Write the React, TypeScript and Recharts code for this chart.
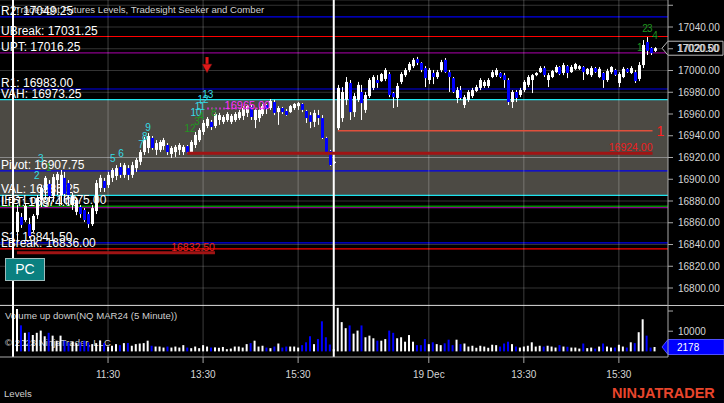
import React from "react";
import {
  ComposedChart,
  Bar,
  Cell,
  XAxis,
  YAxis,
  CartesianGrid,
  ReferenceLine,
  ReferenceArea,
  Scatter,
} from "recharts";

// NQ MAR24, 5 minute bars, two RTH sessions (18 + 19 Dec)
const opens = [
  16851.5, 16865.25, 16862.5, 16858.75, 16853.25, 16867, 16881, 16890, 16895.75, 16884.5,
  16899.25, 16885.5, 16901.25, 16896.5, 16876.25, 16870, 16874.5, 16871.75, 16868, 16858.75,
  16870.75, 16892, 16898.5, 16894.75, 16901.25, 16903, 16911.25, 16904, 16910.25, 16904,
  16910.25, 16916, 16925, 16928.75, 16938, 16927, 16927, 16930.5, 16931.5, 16923.25,
  16925, 16927, 16925, 16930.5, 16925, 16931.5, 16936, 16943.5, 16949, 16952.75,
  16949, 16954.5, 16952.75, 16954.5, 16952.75, 16954.5, 16956.25, 16958.25, 16961, 16966.5,
  16954.5, 16956.25, 16960, 16968.25, 16965.5, 16971, 16961.75, 16965.5, 16962.75, 16961.75,
  16965.5, 16967.25, 16969.25, 16962.75, 16959, 16952.75, 16959, 16956.25, 16938, 16926,
  16915,
  16947, 16956.25, 16973, 16988.5, 16961.75, 16973, 16980.25, 16963.75, 16976.5, 16984,
  16991.25, 16990.25, 16992.25, 16996.75, 16979.25, 16974.75, 16989.5, 16995.75, 17000.5, 17004,
  17010.5, 17007, 17002.25, 16991.25, 16997.75, 16994, 17000.5, 17009.75, 16998.5, 16993,
  16974.75, 16982, 16968.25, 16973, 16976.5, 16981.25, 16984, 16985.75, 16985.75, 16994,
  16995.75, 16997.75, 16995.75, 16991.25, 16971, 16980.25, 16977.5, 16982, 16986.75, 16991.25,
  16995.75, 16998.5, 17002.25, 16991.25, 16994, 16998.5, 17003.25, 16997.75, 17004, 16998.5,
  17001.5, 17001.5, 17003.25, 16996.75, 16995.75, 17002.25, 16994, 16997.75, 16991.25, 16998.5,
  17000.5, 16988.5, 16994, 17001.5, 16997.75, 16998.5, 16992.25, 17005, 17026.25, 17020.75,
  17018,
];

const highs = [
  16876.25, 16869, 16878.25, 16864.5, 16868, 16885.5, 16894.75, 16903, 16899.25, 16904.75,
  16906.75, 16908.5, 16906.75, 16899.25, 16887.5, 16882.75, 16876.25, 16873.5, 16870, 16876.25,
  16899.25, 16904, 16901.25, 16906.75, 16910.25, 16913, 16915, 16915, 16913, 16916,
  16919.5, 16927, 16939, 16942.5, 16939.75, 16936, 16936, 16938, 16933.25, 16930.5,
  16931.5, 16933.25, 16931.5, 16931.5, 16936, 16943.5, 16947, 16954.5, 16957.25, 16954.5,
  16961.75, 16961, 16959, 16961.75, 16960, 16961.75, 16963.75, 16967.25, 16968.25, 16968.25,
  16965.5, 16966.5, 16969.25, 16969.25, 16973.75, 16973, 16967.25, 16966.5, 16964.5, 16968.25,
  16970, 16971, 16970, 16963.75, 16961.75, 16963.75, 16963.75, 16959, 16939, 16927,
  16916.75,
  16986.75, 16984.75, 16994, 16991.25, 16979.25, 16989.5, 16986.75, 16980.25, 16993, 16995.75,
  16995.75, 16997.75, 17002.25, 16998.5, 16980.25, 16988.5, 16998.5, 17002.25, 17007.75, 17011.5,
  17012.5, 17007.75, 17004, 17002.25, 17000.5, 17000.5, 17009.75, 17011.5, 17000.5, 16994,
  16984.75, 16985.75, 16977.5, 16982, 16984, 16986.75, 16993, 16991.25, 16993, 17000.5,
  17002.25, 16998.5, 16997.75, 16993, 16982, 16982, 16984, 16991.25, 16995.75, 16996.75,
  16998.5, 17004, 17004, 16997.75, 17000.5, 17005, 17004, 17007, 17005, 17005,
  17007, 17005, 17004, 17002.25, 17004, 17003.25, 17003.25, 16998.5, 17001.5, 17004,
  17001.5, 16998.5, 17003.25, 17002.25, 17004, 17000.5, 17007.75, 17028, 17030.75, 17021.5,
  17021.5,
];

const lows = [
  16842.25, 16855.25, 16860.75, 16846, 16851.5, 16863.5, 16874.5, 16881, 16879, 16879,
  16885.5, 16876.25, 16878.25, 16876.25, 16871.75, 16867, 16864.5, 16860.75, 16855.25, 16857,
  16868, 16888.25, 16888.25, 16892, 16897.5, 16899.25, 16901.25, 16901.25, 16899.25, 16901.25,
  16906.75, 16913, 16922.25, 16924, 16927, 16922.25, 16925, 16927, 16922.25, 16919.5,
  16920.5, 16922.25, 16922.25, 16924, 16924.5, 16928.75, 16934.25, 16940.75, 16947, 16945.25,
  16947, 16950, 16950.75, 16952.75, 16950.75, 16952.75, 16954.5, 16954.5, 16957.25, 16954.5,
  16947, 16952.75, 16958.25, 16960, 16963.75, 16959, 16950, 16960, 16958.25, 16961,
  16963.75, 16963.75, 16961.75, 16951.75, 16947, 16948, 16950, 16937, 16924, 16912.25,
  16914,
  16944.5, 16952.75, 16968.25, 16954.5, 16957.25, 16971, 16954.5, 16961, 16974.75, 16982,
  16984, 16989.5, 16990.25, 16975.5, 16965.5, 16966.5, 16987.5, 16994, 16998.5, 17002.25,
  17005, 16998.5, 16984.75, 16987.5, 16987.5, 16992.25, 16998.5, 16997.75, 16980.25, 16979.25,
  16970, 16973, 16965.5, 16971, 16974.75, 16980.25, 16982, 16984, 16984, 16993,
  16994, 16993, 16984, 16968.25, 16965.5, 16971, 16975.5, 16980.25, 16984.75, 16979.25,
  16994.75, 16997.75, 16994, 16984.75, 16993, 16997.75, 16995.75, 16995.75, 16993, 16997.75,
  17000.5, 17000.5, 16991.25, 16995.75, 16994, 16997.75, 16993, 16984, 16989.5, 16996.75,
  16995, 16984.75, 16993, 16997.75, 16996.75, 16988.5, 16990.25, 17002.25, 17014.25, 17014.25,
  17017,
];

const closes = [
  16870, 16858, 16875.5, 16847.75, 16866.25, 16882.75, 16892, 16901.25, 16884.5, 16902,
  16904.75, 16904, 16886.5, 16885.5, 16884.5, 16881, 16868, 16862.5, 16858.75, 16873.5,
  16896.5, 16901.25, 16892, 16904, 16908.5, 16910.25, 16904, 16913, 16904, 16913,
  16917.75, 16925, 16936, 16939.75, 16928.75, 16933.25, 16934.25, 16936, 16925, 16928.75,
  16929.75, 16931.5, 16929.75, 16924.75, 16934.25, 16940.75, 16945.25, 16951.75, 16955.5, 16948,
  16960, 16959, 16957.25, 16960, 16958.25, 16960, 16961.75, 16965.5, 16967.25, 16957.25,
  16963.75, 16963.75, 16967.25, 16964.5, 16972, 16961, 16965.5, 16961.75, 16959, 16967.25,
  16969.25, 16970, 16963.75, 16956.25, 16952.75, 16961, 16956.25, 16938, 16925, 16913,
  16916,
  16984, 16980.25, 16989.5, 16961.75, 16976.5, 16986.75, 16970, 16977.5, 16991.25, 16994,
  16988.5, 16996.75, 17000.5, 16977.5, 16975.5, 16985.75, 16996.75, 17000.5, 17006, 17009.75,
  17007, 17000.5, 16993, 17000.5, 16994, 16998.5, 17007.75, 16998.5, 16994, 16980.25,
  16982, 16974.75, 16975.5, 16980.25, 16982, 16984.75, 16991.25, 16989.5, 16991.25, 16998.5,
  17000.5, 16994, 16991.25, 16971, 16980.25, 16974.75, 16982, 16989.5, 16994, 16995.75,
  16997.75, 17002.25, 16995.75, 16995.75, 16999.5, 17003.25, 16996.75, 17005, 16997.75, 17003.25,
  17006, 17004, 16998.5, 17001.5, 17002.25, 16998.5, 17001.5, 16991.25, 16999.5, 17003.25,
  16996, 16996.75, 17001.5, 16998.5, 17002.25, 16990.25, 17005, 17023.5, 17018, 17016,
  17020.5,
];

const volumes = [
  21000, 12900, 9200, 9500, 8100, 9200, 10300, 7500, 9200, 7800,
  5300, 7800, 5300, 4500, 4800, 4100, 4500, 5300, 4500, 3600,
  4100, 5300, 4100, 2400, 2800, 3600, 3100, 4100, 4100, 2800,
  3600, 3900, 4100, 5300, 2800, 2400, 2400, 1900, 2400, 1900,
  2400, 1900, 3100, 1900, 1600, 2400, 1600, 3100, 2400, 1900,
  2000, 1800, 2200, 1100, 1400, 2400, 2400, 1900, 3600, 4100,
  5300, 2400, 2800, 1900, 1600, 2400, 3900, 1900, 2400, 2400,
  2400, 1900, 3100, 4500, 7500, 3600, 6100, 14900, 7000, 3400,
  1100,
  21600, 14500, 11500, 12850, 8800, 10300, 12850, 7000, 7800, 6500,
  5300, 5300, 6100, 10300, 9200, 6500, 7000, 4800, 8100, 4800,
  3100, 3100, 6100, 3600, 4500, 3600, 3100, 4000, 5800, 3100,
  5800, 3600, 3900, 2400, 2800, 1800, 2800, 2400, 1800, 3300,
  3100, 2400, 3900, 4800, 3600, 2400, 1900, 2400, 2800, 4500,
  2400, 2800, 2400, 2800, 2400, 1900, 3100, 2400, 2300, 1900,
  1900, 1400, 3900, 1600, 1900, 1400, 2400, 3900, 2400, 1900,
  1900, 3300, 2400, 1900, 4500, 4100, 9500, 15900, 7800, 1900,
  2178,
];

// time axis: bar index -> label
const timeTicks = [23, 47, 71, 104, 128, 152];
const timeLabels = ["11:30", "13:30", "15:30", "19 Dec", "13:30", "15:30"];
const sessionStarts = [-1, 80];

const priceTicks = [16800, 16820, 16840, 16860, 16880, 16900, 16920, 16940, 16960, 16980, 17000, 17020, 17040, 17060];
const volumeTicks = [10000, 20000];

// Tradesight levels
const levelNames = ["R2", "UBreak", "UPT", "R1", "VAH", "Pivot", "VAL", "IFS Long", "LPT", "S1", "LBreak"];
const levelValues = [17049.25, 17031.25, 17016.25, 16983.0, 16973.25, 16907.75, 16885.25, 16875.0, 16874.0, 16841.5, 16836.0];
const settleValue = 16920;

// rays: price, first bar, last bar
const rayValues = [16832.5, 16924.0, 16965.0, 16944.5];
const rayFrom = [0, 43, 48, 81];
const rayTo = [50, 160.5, 63, 160.5];

// Seeker / Comber counts
const setupText = ["2", "3", "5", "6", "7", "8", "9", "10", "11", "12", "13"];
const setupBar = [5, 6, 24.2, 26.3, 31.3, 32.3, 33.1, 45.2, 46.2, 47, 48.2];
const setupPrice = [16903, 16919.5, 16919.5, 16923.25, 16931.5, 16939, 16948, 16961.75, 16967.25, 16973, 16977.5];
const countText = ["1", "12", "3", "4", "8", "1", "2", "3", "4"];
const countBar = [8, 43.7, 45.5, 46.5, 49.7, 157.3, 158.6, 159.8, 161.1];
const countPrice = [16911, 16946.25, 16952.75, 16957.25, 16961, 17021.5, 17038.25, 17039, 17031.75];
const signalBar = [48];
const signalPrice = [17005];

const FONT = "Arial, 'Liberation Sans', sans-serif";
const UP = "#ffffff";
const DOWN = "#0000ff";
const X_DOMAIN = [-4.283, 164.404];
const PRICE_DOMAIN = [16784.37, 17064.83];
const VOL_DOMAIN = [-2778, 22980];

const LEVEL_STROKE: Record<string, string> = {
  R2: "#0000ee",
  UBreak: "#ff0000",
  UPT: "#8b008b",
  R1: "#0000ee",
  VAH: "#1ee4ee",
  Pivot: "#0000ee",
  VAL: "#1ee4ee",
  "IFS Long": "#008a00",
  LPT: "#8b008b",
  S1: "#0000ee",
  LBreak: "#ff0000",
};

const RAY_STYLE = [
  { stroke: "#a01414", width: 3, dash: undefined, text: "#ee1c1c" },
  { stroke: "#a01414", width: 3, dash: undefined, text: "#ee1c1c" },
  { stroke: "#c030c0", width: 2, dash: "2 2", text: "#ff30ff" },
  { stroke: "#e0503c", width: 1.5, dash: undefined, text: "#ff2020" },
];

const bars = opens.map((o, i) => ({
  i,
  o,
  h: highs[i],
  l: lows[i],
  c: closes[i],
  v: volumes[i],
}));

const setupData = setupText.map((t, k) => ({ i: setupBar[k], p: setupPrice[k], t }));
const countData = countText.map((t, k) => ({ i: countBar[k], p: countPrice[k], t }));
const signalData = signalBar.map((i, k) => ({ i, p: signalPrice[k] }));

const levelValue = (name: string) => levelValues[levelNames.indexOf(name)];

function Candle(props: any) {
  const { x, y, width, height, payload } = props;
  if (x == null || y == null || !payload) return null;
  const top = height < 0 ? y + height : y;
  const hh = Math.abs(height);
  const cx = Math.round(x + width / 2);
  const k = payload.h > payload.l ? hh / (payload.h - payload.l) : 0;
  const yo = top + (payload.h - payload.o) * k;
  const yc = top + (payload.h - payload.c) * k;
  const up = payload.c >= payload.o;
  const bodyTop = Math.min(yo, yc);
  const bodyH = Math.max(1, Math.abs(yc - yo));
  return (
    <g>
      <line x1={cx + 0.5} x2={cx + 0.5} y1={top} y2={top + hh} stroke={UP} strokeWidth={1} />
      <rect x={cx - 1} y={bodyTop} width={3} height={bodyH} fill={up ? UP : DOWN} />
    </g>
  );
}

const levelLabel = (text: string) => (props: any) => {
  const vb = props.viewBox || { x: 0, y: 0 };
  return (
    <text x={vb.x + 1} y={vb.y - 2} fill="#ffffff" fontSize={12} fontFamily={FONT}>
      {text}
    </text>
  );
};

const rayLabel = (k: number) => (props: any) => {
  const vb = props.viewBox || { x: 0, y: 0, width: 0 };
  const st = RAY_STYLE[k];
  if (k === 3) {
    return (
      <text x={vb.x + vb.width + 4} y={vb.y + 5} fill={st.text} fontSize={14} fontFamily={FONT}>
        1
      </text>
    );
  }
  return (
    <text
      x={vb.x + vb.width + (k === 2 ? 4 : 0)}
      y={vb.y - (k === 2 ? 0 : 2)}
      textAnchor="end"
      fill={st.text}
      fontSize={k === 2 ? 11 : 10.5}
      fontFamily={FONT}
    >
      {rayValues[k].toFixed(2)}
    </text>
  );
};

const priceBox = (props: any) => {
  const vb = props.viewBox || { x: 0, y: 0, width: 0 };
  const r = vb.x + vb.width;
  const cy = vb.y;
  return (
    <g>
      <path
        d={`M${r - 6},${cy} L${r},${cy - 7} L${r + 55},${cy - 7} L${r + 55},${cy + 7} L${r},${cy + 7} Z`}
        fill="#000"
        stroke="#b8b8b8"
        strokeWidth={1}
      />
      <text x={r + 9} y={cy + 4} fill="#ffffff" fontSize={10} fontFamily={FONT}>
        {closes[closes.length - 1].toFixed(2)}
      </text>
    </g>
  );
};

const volumeBox = (props: any) => {
  const vb = props.viewBox || { x: 0, y: 0, width: 0 };
  const r = vb.x + vb.width;
  const cy = vb.y;
  return (
    <g>
      <path
        d={`M${r - 6},${cy} L${r},${cy - 7.5} L${r + 56},${cy - 7.5} L${r + 56},${cy + 7.5} L${r},${cy + 7.5} Z`}
        fill="#0000ff"
        stroke="#5050ff"
        strokeWidth={1}
      />
      <text x={r + 9} y={cy + 4} fill="#ffffff" fontSize={10} fontFamily={FONT}>
        {volumes[volumes.length - 1]}
      </text>
    </g>
  );
};

const countShape = (color: string) => (props: any) => (
  <text
    x={props.cx}
    y={props.cy}
    textAnchor="middle"
    dominantBaseline="central"
    fill={color}
    fontSize={10}
    fontFamily={FONT}
  >
    {props.payload.t}
  </text>
);

const arrowShape = (props: any) => {
  const { cx, cy } = props;
  return (
    <g>
      <rect x={cx - 1.5} y={cy - 8} width={3} height={8} fill="#e01818" />
      <path d={`M${cx - 5},${cy - 1} L${cx + 5},${cy - 1} L${cx},${cy + 8} Z`} fill="#e01818" stroke="#401010" strokeWidth={0.6} />
    </g>
  );
};

const overlayText: React.CSSProperties = {
  position: "absolute",
  fontFamily: FONT,
  fontSize: 9.6,
  color: "#cfcfcf",
  whiteSpace: "nowrap",
  lineHeight: 1,
};

export default function App() {
  const gridStroke = "#ffffff";
  return (
    <div style={{ position: "relative", width: 724, height: 403, background: "#000", overflow: "hidden" }}>
      <style>{"body{margin:0;background:#000}"}</style>

      <div style={{ ...overlayText, left: 15, top: 5 }}>
        Tradesight Futures Levels, Tradesight Seeker and Comber
      </div>

      <div style={{ position: "absolute", left: 0, top: 0 }}>
        <ComposedChart width={724} height={305} data={bars} margin={{ top: 0, right: 0, bottom: 0, left: 0 }}>
          <CartesianGrid vertical={false} stroke="#333333" />
          <XAxis dataKey="i" type="number" domain={X_DOMAIN} allowDataOverflow hide />
          <YAxis
            orientation="right"
            width={56}
            domain={PRICE_DOMAIN}
            allowDataOverflow
            ticks={priceTicks}
            interval={0}
            tickFormatter={(v: number) => (v > 17050 ? "" : v.toFixed(2))}
            tick={{ fill: "#d6d6d6", fontSize: 10, fontFamily: FONT }}
            tickSize={5}
            tickMargin={5}
            axisLine={{ stroke: "#a8a8a8" }}
            tickLine={{ stroke: "#a8a8a8" }}
          />
          <ReferenceArea
            y1={levelValue("VAL")}
            y2={levelValue("VAH")}
            fill="#4c4a44"
            fillOpacity={1}
            stroke="none"
            zIndex={50}
          />
          <ReferenceLine y={settleValue} stroke="#8a8a8a" strokeWidth={1} zIndex={60} />
          {levelNames.map((name, k) => (
            <ReferenceLine
              key={name}
              y={levelValues[k]}
              stroke={LEVEL_STROKE[name]}
              strokeWidth={name === "IFS Long" ? 2 : 1.2}
              zIndex={70}
              label={levelLabel(`${name}: ${levelValues[k].toFixed(2)}`)}
            />
          ))}
          {timeTicks.map((t) => (
            <ReferenceLine key={`vg-${t}`} x={t} stroke={gridStroke} strokeOpacity={0.24} zIndex={90} />
          ))}
          {sessionStarts.map((t) => (
            <ReferenceLine key={`ss-${t}`} x={t} stroke="#ffffff" strokeWidth={2} zIndex={95} />
          ))}
          <ReferenceLine y={closes[closes.length - 1]} stroke="#000" strokeOpacity={0} zIndex={95} label={priceBox} />
          <Bar
            dataKey={(d: any) => [d.l, d.h]}
            barSize={3}
            shape={Candle}
            isAnimationActive={false}
            zIndex={300}
          />
          {rayValues.map((v, k) => (
            <ReferenceLine
              key={`ray-${k}`}
              segment={[
                { x: rayFrom[k], y: v },
                { x: rayTo[k], y: v },
              ]}
              stroke={RAY_STYLE[k].stroke}
              strokeWidth={RAY_STYLE[k].width}
              strokeDasharray={RAY_STYLE[k].dash}
              zIndex={450}
              label={rayLabel(k)}
            />
          ))}
          <Scatter data={setupData} dataKey="p" shape={countShape("#34dce6")} isAnimationActive={false} />
          <Scatter data={countData} dataKey="p" shape={countShape("#1f961f")} isAnimationActive={false} />
          <Scatter data={signalData} dataKey="p" shape={arrowShape} isAnimationActive={false} />
        </ComposedChart>
      </div>

      <div style={{ position: "absolute", left: 0, top: 305, width: 724, height: 1, background: "#c4c4c4" }} />
      <div style={{ ...overlayText, left: 5, top: 311 }}>Volume up down(NQ MAR24 (5 Minute))</div>
      <div style={{ ...overlayText, left: 5, top: 338 }}>© 2023 NinjaTrader, LLC</div>

      <div style={{ position: "absolute", left: 0, top: 305 }}>
        <ComposedChart width={724} height={98} data={bars} margin={{ top: 0, right: 0, bottom: 0, left: 0 }}>
          <XAxis
            dataKey="i"
            type="number"
            domain={X_DOMAIN}
            allowDataOverflow
            ticks={timeTicks}
            interval={0}
            tickFormatter={(v: number) => timeLabels[timeTicks.indexOf(v)] ?? ""}
            height={46}
            axisLine={{ stroke: "#a8a8a8" }}
            tickLine={{ stroke: "#a8a8a8" }}
            tickSize={6}
            tickMargin={8}
            tick={{ fill: "#d6d6d6", fontSize: 10, fontFamily: FONT }}
          />
          <YAxis
            orientation="right"
            width={56}
            domain={VOL_DOMAIN}
            allowDataOverflow
            ticks={volumeTicks}
            interval={0}
            tickFormatter={(v: number) => (v === 10000 ? "10000" : "")}
            tick={{ fill: "#d6d6d6", fontSize: 10, fontFamily: FONT }}
            tickSize={5}
            tickMargin={5}
            axisLine={{ stroke: "#a8a8a8" }}
            tickLine={{ stroke: "#a8a8a8" }}
          />
          {timeTicks.map((t) => (
            <ReferenceLine key={`vv-${t}`} x={t} stroke={gridStroke} strokeOpacity={0.24} />
          ))}
          {sessionStarts.map((t) => (
            <ReferenceLine key={`vs-${t}`} x={t} stroke="#ffffff" strokeWidth={2} />
          ))}
          <Bar dataKey="v" barSize={2} isAnimationActive={false}>
            {bars.map((b) => (
              <Cell key={`v-${b.i}`} fill={b.c >= b.o ? UP : DOWN} />
            ))}
          </Bar>
          <ReferenceLine y={volumes[volumes.length - 1]} stroke="#000" strokeOpacity={0} label={volumeBox} />
        </ComposedChart>
      </div>

      <div
        style={{
          position: "absolute",
          left: 5,
          top: 258,
          width: 38,
          height: 21,
          background: "#0a8080",
          border: "1px solid #9fbcbc",
          color: "#ffffff",
          fontFamily: FONT,
          fontSize: 14,
          lineHeight: "21px",
          textAlign: "center",
        }}
      >
        PC
      </div>

      <div style={{ ...overlayText, left: 4, top: 389 }}>Levels</div>
      <div
        style={{
          position: "absolute",
          left: 612,
          top: 386,
          fontFamily: FONT,
          fontWeight: 700,
          fontSize: 14.5,
          color: "#e8452c",
          lineHeight: 1,
          whiteSpace: "nowrap",
        }}
      >
        NINJATRADER
      </div>
    </div>
  );
}
